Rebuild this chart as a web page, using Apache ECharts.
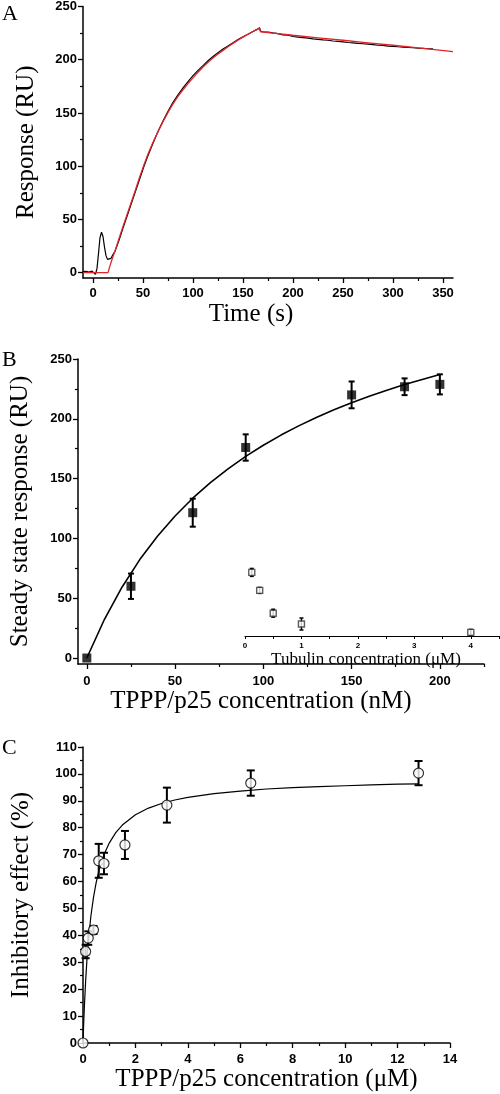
<!DOCTYPE html>
<html><head><meta charset="utf-8">
<script src="https://cdn.jsdelivr.net/npm/echarts@6/dist/echarts.min.js"></script>
<style>html,body{margin:0;padding:0;background:#fff}#c{width:500px;height:1094px}</style>
</head><body><div id="c"></div>
<script>
// ---------- Panel A: sensorgram ----------
const timeBlack = [-10,-7,-4,-1,1,2.5,4,5.5,7,8.5,10,11.5,13,14.5,16,18,20,22,26,30,34.2,38,42,46,50.8,55,60,65,70,75,80,85,90,95,100,105,110,115,120,125,130,135,140,145,150,155,160,164,166.5,167.5,170,175,180,185,190,195,200,205,210,215,220,225,230,235,240,245,250,255,260,265,270,275,280,285,290,295,300,305,310,315,320,325,330,335,340];
const respBlack = [1,1.2,0.6,1.5,1,-1.5,4,18,33,38,34,24,16,12.5,12,13.5,17,20,30.5,42,53.5,64,75,86,99.5,110,121.5,132.5,142.5,151.5,160,167,173.5,179.5,185,190,194.5,199,203,206.5,210,213,216,219,221.5,224,226.5,228.5,230,227,226.3,226,225.2,224.5,223.4,223,221.8,221.2,220.8,220.3,219.6,219.2,218.6,218.3,217.6,217.2,216.8,216.2,215.9,215.3,215,214.6,214.2,213.6,213.4,212.8,212.6,212.2,211.9,211.5,211.3,210.8,210.7,210.3,210.2];
const timeFit = [-10,15,16.5,18.5,22,26,30,34.2,38,42,46,50.8,55,60,65,70,75,80,85,90,95,100,105,110,115,120,125,130,135,140,145,150,155,160,166.5,167.5,180,200,225,250,275,300,330,360];
const respFit = [0,0,5,11,20.5,32,43.5,55,65.5,76.5,88,101,111.5,122.5,132.5,141.8,150.5,158.5,165.5,171.8,177.5,183,188.3,193.2,197.6,201.6,205.3,208.8,212.2,215.4,218.4,221.2,223.9,226.5,229.4,226.3,225,223,220.6,218.3,215.9,213.6,210.6,207.6];
const ticksAx = [0,50,100,150,200,250,300,350];
const minorAx = [25,75,125,175,225,275,325];
const ticksAy = [0,50,100,150,200,250];
const minorAy = [25,75,125,175,225];

// ---------- Panel B: steady state ----------
const concB = [0,25,60,90,150,180,200];
const respB = [0,60,121.5,176,220,226.8,228.8];
const errB = [0,10.6,11.7,11,11.2,7,8.4];
const fitConcB = [0,10,20,30,40,50,60,70,80,90,100,110,120,130,140,150,160,170,180,190,200];
const fitRespB = [0,32.4,59.4,82.3,101.8,118.7,133.6,146.6,158.2,168.6,177.9,186.4,194.1,201.1,207.5,213.4,218.8,223.9,228.6,232.9,237];
const ticksBx = [0,50,100,150,200];
const minorBx = [25,75,125,175,225];
const ticksBy = [0,50,100,150,200,250];
const minorBy = [25,75,125,175,225];
// inset
const tubConc = [0.12,0.26,0.5,1,4];
const tubResp = [73,58,39,30,23];
const tubErr = [3.3,2.5,3.3,5,2.5];
const ticksIn = [0,1,2,3,4];
const minorIn = [0.5,1.5,2.5,3.5,4.5];

// ---------- Panel C: inhibitory effect ----------
const concC = [0,0.1,0.2,0.4,0.6,0.8,1.6,3.2,6.4,12.8];
const inhC = [0,34,39,42,67.7,66.7,73.6,88.4,96.6,100.3];
const errC = [0,2.5,2.5,1.5,6.3,4,5.2,6.5,4.7,4.5];
const fitConcC = [0,0.025,0.05,0.1,0.15,0.2,0.3,0.4,0.5,0.6,0.8,1,1.25,1.5,2,2.5,3,3.5,4,5,6,7,8,9,10,11,12,12.8];
const fitInhC = [0,7,13,23,30.9,37.3,47.1,54.1,59.5,63.7,70,74.3,78.2,81,84.8,87.3,89,90.3,91.3,92.7,93.6,94.4,94.9,95.3,95.6,95.9,96.2,96.3];

const serif = "'Liberation Serif','Times New Roman',serif";
const sans = "'Liberation Sans',Arial,sans-serif";
const zip = (a,b,c) => a.map((v,i)=> c ? [v,b[i],c[i]] : [v,b[i]]);

function majorAxis(o){
  return Object.assign({
    type:'value', splitLine:{show:false},
    axisLine:{show:true, onZero:false, lineStyle:{color:'#000', width:1.5}},
    axisTick:{show:true, length:5, lineStyle:{color:'#000', width:1.3}, customValues:o.ticks},
    axisLabel:{show:true, customValues:o.ticks, color:'#000', fontFamily:sans, fontWeight:'bold', fontSize:13, margin:o.margin||8},
    nameTextStyle:{fontFamily:serif, fontSize:25, color:'#000', padding:o.pad||0},
    nameLocation:'middle'
  }, o.extra);
}
function minorAxis(o){
  return Object.assign({
    type:'value', splitLine:{show:false},
    axisLine:{show:false, onZero:false},
    axisTick:{show:true, length:3, lineStyle:{color:'#000', width:1.2}, customValues:o.ticks},
    axisLabel:{show:false}
  }, o.extra);
}

function errRender(capW, lw){
  return function(params, api){
    const x = api.value(0), y = api.value(1), e = api.value(2);
    if(!e) return null;
    const t = api.coord([x, y+e]), b = api.coord([x, y-e]);
    const st = {stroke:'#000', lineWidth:lw};
    return {type:'group', children:[
      {type:'line', shape:{x1:t[0],y1:t[1],x2:b[0],y2:b[1]}, style:st},
      {type:'line', shape:{x1:t[0]-capW/2,y1:t[1],x2:t[0]+capW/2,y2:t[1]}, style:st},
      {type:'line', shape:{x1:b[0]-capW/2,y1:b[1],x2:b[0]+capW/2,y2:b[1]}, style:st}
    ]};
  };
}

const chart = echarts.init(document.getElementById('c'), null, {renderer:'canvas'});
chart.setOption({
  animation:false,
  backgroundColor:'#fff',
  grid:[
    {left:83, top:6, width:370, height:272},
    {left:78, top:359, width:406, height:305},
    {left:245, top:564, width:254, height:72},
    {left:83, top:747, width:367, height:296}
  ],
  xAxis:[
    majorAxis({ticks:ticksAx, margin:9, pad:[0,34,0,0], extra:{gridIndex:0, position:'bottom', min:-10, max:360, name:'Time (s)', nameGap:24}}),
    minorAxis({ticks:minorAx, extra:{gridIndex:0, position:'bottom', min:-10, max:360}}),
    majorAxis({ticks:ticksBx, margin:11, pad:[0,40,0,0], extra:{gridIndex:1, position:'bottom', min:-5, max:225, name:'TPPP/p25 concentration (nM)', nameGap:25}}),
    minorAxis({ticks:minorBx, extra:{gridIndex:1, position:'bottom', min:-5, max:225}}),
    {type:'value', gridIndex:2, position:'bottom', min:0, max:4.5, splitLine:{show:false},
     axisLine:{show:true, onZero:false, lineStyle:{color:'#000', width:1.2}},
     axisTick:{show:true, length:3, lineStyle:{color:'#000', width:1}, customValues:ticksIn.concat(minorIn)},
     axisLabel:{show:true, customValues:ticksIn, color:'#000', fontFamily:sans, fontWeight:'bold', fontSize:8, margin:6},
     name:'Tubulin concentration (μM)', nameLocation:'middle', nameGap:7,
     nameTextStyle:{fontFamily:serif, fontSize:17, color:'#000', padding:[0,12,0,0]}},
    {type:'value', gridIndex:3, position:'bottom', min:0, max:14, interval:2, splitLine:{show:false},
     axisLine:{show:true, onZero:false, lineStyle:{color:'#000', width:1.5}},
     axisTick:{show:true, length:5, lineStyle:{color:'#000', width:1.3}},
     minorTick:{show:true, splitNumber:2, length:3, lineStyle:{color:'#000', width:1.2}},
     axisLabel:{color:'#000', fontFamily:sans, fontWeight:'bold', fontSize:13, margin:10},
     name:'TPPP/p25 concentration (μM)', nameLocation:'middle', nameGap:24,
     nameTextStyle:{fontFamily:serif, fontSize:25, color:'#000'}}
  ],
  yAxis:[
    majorAxis({ticks:ticksAy, margin:6, extra:{gridIndex:0, position:'left', min:-5, max:250, name:'Response (RU)', nameGap:44}}),
    minorAxis({ticks:minorAy, extra:{gridIndex:0, position:'left', min:-5, max:250}}),
    majorAxis({ticks:ticksBy, margin:6, extra:{gridIndex:1, position:'left', min:-5, max:250, name:'Steady state response (RU)', nameGap:45}}),
    minorAxis({ticks:minorBy, extra:{gridIndex:1, position:'left', min:-5, max:250}}),
    {type:'value', gridIndex:2, min:20, max:80, show:false, splitLine:{show:false}},
    {type:'value', gridIndex:3, position:'left', min:0, max:110, interval:10, splitLine:{show:false},
     axisLine:{show:true, onZero:false, lineStyle:{color:'#000', width:1.5}},
     axisTick:{show:true, length:5, lineStyle:{color:'#000', width:1.3}},
     minorTick:{show:true, splitNumber:2, length:3, lineStyle:{color:'#000', width:1.2}},
     axisLabel:{color:'#000', fontFamily:sans, fontWeight:'bold', fontSize:13, margin:6},
     name:'Inhibitory effect (%)', nameLocation:'middle', nameGap:49,
     nameTextStyle:{fontFamily:serif, fontSize:25, color:'#000'}}
  ],
  graphic:[
    {type:'text', left:2, top:3, style:{text:'A', font:'22px '+serif, fill:'#000'}},
    {type:'text', left:2, top:349, style:{text:'B', font:'22px '+serif, fill:'#000'}},
    {type:'text', left:2, top:737, style:{text:'C', font:'22px '+serif, fill:'#000'}}
  ],
  series:[
    {type:'line', xAxisIndex:0, yAxisIndex:0, data:zip(timeBlack, respBlack), showSymbol:false, smooth:false,
     lineStyle:{color:'#000', width:1.2}, z:2},
    {type:'line', xAxisIndex:0, yAxisIndex:0, data:zip(timeFit, respFit), showSymbol:false, smooth:false,
     lineStyle:{color:'#e3242b', width:1.3}, z:3},

    {type:'line', xAxisIndex:2, yAxisIndex:2, data:zip(fitConcB, fitRespB), showSymbol:false, smooth:false,
     lineStyle:{color:'#000', width:1.6}, z:2},
    {type:'custom', xAxisIndex:2, yAxisIndex:2, data:zip(concB, respB, errB), encode:{x:0,y:1},
     renderItem:errRender(6, 2), clip:false, z:3},
    {type:'scatter', xAxisIndex:2, yAxisIndex:2, data:zip(concB, respB), symbol:'rect', symbolSize:9,
     itemStyle:{color:'#000'}, clip:false, z:4},

    {type:'custom', xAxisIndex:4, yAxisIndex:4, data:zip(tubConc, tubResp, tubErr), encode:{x:0,y:1},
     renderItem:errRender(4, 1.5), clip:false, z:3},
    {type:'scatter', xAxisIndex:4, yAxisIndex:4, data:zip(tubConc, tubResp), symbol:'rect', symbolSize:6,
     itemStyle:{color:'#fff', borderColor:'#333', borderWidth:1.4}, clip:false, z:4},

    {type:'line', xAxisIndex:5, yAxisIndex:5, data:zip(fitConcC, fitInhC), showSymbol:false, smooth:false,
     lineStyle:{color:'#000', width:1.2}, z:2},
    {type:'custom', xAxisIndex:5, yAxisIndex:5, data:zip(concC, inhC, errC), encode:{x:0,y:1},
     renderItem:errRender(8, 2), clip:false, z:3},
    {type:'scatter', xAxisIndex:5, yAxisIndex:5, data:zip(concC, inhC), symbol:'circle', symbolSize:10,
     itemStyle:{color:'#fff', borderColor:'#000', borderWidth:1.2}, clip:false, z:4}
  ]
});
</script>
</body></html>
